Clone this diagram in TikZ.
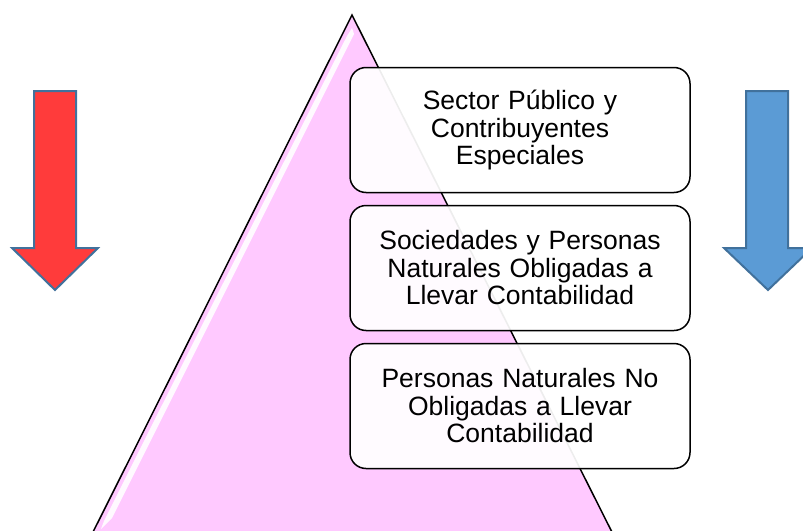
\documentclass[tikz,border=0pt]{standalone}
\usepackage{fontspec}
\setmainfont{Liberation Sans}
\definecolor{pinkfill}{HTML}{FFC9FF}
\definecolor{redfill}{HTML}{FF3B3B}
\definecolor{bluefill}{HTML}{5B9BD5}
\definecolor{arrowline}{HTML}{41719C}
\begin{document}
\begin{tikzpicture}[x=1pt,y=-1pt,
  levelbox/.style={draw=black, line width=1.5pt, fill=white, fill opacity=0.93, text opacity=1,
    rounded corners=16pt, minimum width=340pt, minimum height=125pt, text width=320pt,
    align=center, inner sep=0pt, font=\fontsize{26.5}{27.5}\selectfont},
  downarrow/.style={draw=arrowline, line width=2pt, line join=miter}]
\useasboundingbox (0,0) rectangle (803,530);
\clip (0,0) rectangle (803,530);
% pyramid
\fill[pinkfill] (352,15) -- (94,530) -- (80,558) -- (625,558) -- (611,530) -- cycle;
\fill[white, opacity=0.9] (352,28) -- (354,34) -- (112,518) -- (101,529) -- (104,521) -- (347,36) -- cycle;
\draw[black, line width=1.5pt] (80,558) -- (352,15) -- (625,558);
% arrows
\draw[downarrow, fill=redfill] (34,91) -- (76,91) -- (76,248) -- (98,248) -- (55,290) -- (12,248) -- (34,248) -- cycle;
\draw[downarrow, fill=bluefill] (746,91) -- (788,91) -- (788,248) -- (812,248) -- (768,290) -- (724,248) -- (746,248) -- cycle;
% boxes
\node[levelbox] (b1) at (520,130) {Sector Público y\\Contribuyentes\\Especiales};
\node[levelbox] (b2) at (520,268) {Sociedades y Personas\\Naturales Obligadas a\\Llevar Contabilidad};
\node[levelbox] (b3) at (520,406) {Personas Naturales No\\Obligadas a Llevar\\Contabilidad};
\end{tikzpicture}
\end{document}
